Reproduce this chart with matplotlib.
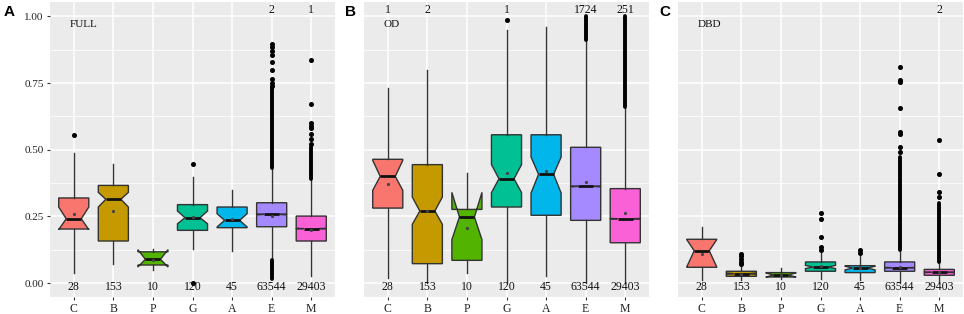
import matplotlib
matplotlib.use('Agg')
import matplotlib.pyplot as plt
from matplotlib.ticker import FixedLocator

categories = ['C', 'B', 'P', 'G', 'A', 'E', 'M']
counts = ['28', '153', '10', '120', '45', '63544', '29403']
colors = ['#F8766D', '#C49A00', '#53B400', '#00C094', '#00B6EB', '#A58AFF', '#FB61D7']
panel_titles = ['FULL', 'OD', 'DBD']
panel_letters = ['A', 'B', 'C']
y_ticks = [0.0, 0.25, 0.5, 0.75, 1.0]
y_tick_labels = ['0.00', '0.25', '0.50', '0.75', '1.00']

# ---- Panel A: FULL ----
full_q1 = [0.2025, 0.1575, 0.0675, 0.1975, 0.2075, 0.211, 0.1575]
full_med = [0.241, 0.314, 0.089, 0.245, 0.235, 0.2575, 0.204]
full_q3 = [0.319, 0.366, 0.117, 0.294, 0.285, 0.301, 0.251]
full_cilo = [0.200, 0.285, 0.060, 0.222, 0.210, 0.2555, 0.2025]
full_cihi = [0.285, 0.340, 0.125, 0.270, 0.260, 0.2595, 0.2055]
full_wlo = [0.0375, 0.0725, 0.0475, 0.129, 0.12, 0.085, 0.025]
full_whi = [0.489, 0.4475, 0.129, 0.3975, 0.3475, 0.429, 0.385]
full_mean = [0.259, 0.27, 0.085, 0.247, 0.24, 0.25, 0.20]
full_fliers = [[0.554], [], [], [0.4475, 0.0], [],
               [0.74, 0.75, 0.765, 0.80, 0.83, 0.855, 0.87, 0.885, 0.895],
               [0.52, 0.54, 0.56, 0.58, 0.59, 0.60, 0.67, 0.835]]
full_dense = [[], [], [], [], [], [(0.43, 0.73), (0.015, 0.085)], [(0.39, 0.51)]]
full_top = ['', '', '', '', '', '2', '1']

# ---- Panel B: OD ----
od_q1 = [0.281, 0.0725, 0.085, 0.285, 0.254, 0.235, 0.151]
od_med = [0.400, 0.270, 0.2475, 0.391, 0.4075, 0.3625, 0.241]
od_q3 = [0.464, 0.444, 0.276, 0.556, 0.556, 0.509, 0.354]
od_cilo = [0.3475, 0.220, 0.1625, 0.339, 0.3375, 0.3605, 0.2395]
od_cihi = [0.460, 0.3225, 0.340, 0.444, 0.4725, 0.3645, 0.2425]
od_wlo = [0.02, 0.0, 0.0375, 0.0, 0.025, 0.0, 0.0]
od_whi = [0.7325, 0.80, 0.414, 0.95, 0.96, 0.91, 0.6575]
od_mean = [0.37, 0.27, 0.206, 0.4125, 0.42, 0.3775, 0.2625]
od_fliers = [[], [], [], [0.9875], [], [], []]
od_dense = [[], [], [], [], [], [(0.91, 1.0)], [(0.66, 1.0)]]
od_top = ['1', '2', '', '1', '', '1724', '251']

# ---- Panel C: DBD ----
dbd_q1 = [0.059, 0.025, 0.0225, 0.044, 0.039, 0.044, 0.029]
dbd_med = [0.121, 0.035, 0.030, 0.060, 0.056, 0.0575, 0.040]
dbd_q3 = [0.164, 0.044, 0.039, 0.079, 0.065, 0.079, 0.051]
dbd_cilo = [0.060, 0.0325, 0.022, 0.054, 0.049, 0.0565, 0.039]
dbd_cihi = [0.163, 0.0375, 0.038, 0.066, 0.063, 0.0585, 0.041]
dbd_wlo = [0.011, 0.01, 0.016, 0.016, 0.0125, 0.0, 0.0]
dbd_whi = [0.211, 0.066, 0.0575, 0.1125, 0.10, 0.125, 0.079]
dbd_mean = [0.11, 0.035, 0.030, 0.062, 0.055, 0.060, 0.040]
dbd_fliers = [[], [0.07, 0.08, 0.09, 0.10, 0.11], [],
              [0.125, 0.135, 0.1725, 0.241, 0.264], [0.1125, 0.125],
              [0.49, 0.51, 0.56, 0.565, 0.656, 0.755, 0.76, 0.81],
              [0.3225, 0.34, 0.41, 0.5375]]
dbd_dense = [[], [], [], [], [], [(0.125, 0.4725)], [(0.08, 0.30)]]
dbd_top = ['', '', '', '', '', '', '2']

panels = [
    (full_q1, full_med, full_q3, full_cilo, full_cihi, full_wlo, full_whi, full_mean, full_fliers, full_dense, full_top),
    (od_q1, od_med, od_q3, od_cilo, od_cihi, od_wlo, od_whi, od_mean, od_fliers, od_dense, od_top),
    (dbd_q1, dbd_med, dbd_q3, dbd_cilo, dbd_cihi, dbd_wlo, dbd_whi, dbd_mean, dbd_fliers, dbd_dense, dbd_top),
]

serif = ['Liberation Serif', 'DejaVu Serif']
W, H = 964, 314
fig = plt.figure(figsize=(W / 100, H / 100), dpi=100)
lefts = [50, 364, 678]
pw = 285
top_px, bot_px = 2, 297

ymin, ymax = -0.0525, 1.054
positions = list(range(1, 8))

for pi, (q1, med, q3, cilo, cihi, wlo, whi, mean, fliers, dense, topc) in enumerate(panels):
    ax = fig.add_axes([lefts[pi] / W, 1 - bot_px / H, pw / W, (bot_px - top_px) / H])
    ax.set_facecolor('#EBEBEB')
    for s in ax.spines.values():
        s.set_visible(False)

    stats = []
    for i in range(7):
        stats.append(dict(med=med[i], q1=q1[i], q3=q3[i], cilo=cilo[i], cihi=cihi[i],
                          whislo=wlo[i], whishi=whi[i], mean=mean[i], fliers=fliers[i]))
    bp = ax.bxp(stats, positions=positions, widths=0.76, shownotches=True, patch_artist=True,
                showcaps=False, showmeans=True, manage_ticks=False,
                boxprops=dict(edgecolor='#333333', linewidth=1.0),
                whiskerprops=dict(color='#333333', linewidth=1.0),
                medianprops=dict(color='#111111', linewidth=2.0),
                meanprops=dict(marker='o', markersize=1.3, markerfacecolor='#444444',
                               markeredgecolor='#444444'),
                flierprops=dict(marker='o', markersize=2.6, markerfacecolor='black',
                                markeredgecolor='black', linestyle='none'))
    for patch, c in zip(bp['boxes'], colors):
        patch.set_facecolor(c)

    ax.set_xlim(0.4, 7.6)
    ax.set_ylim(ymin, ymax)
    ax.yaxis.set_major_locator(FixedLocator(y_ticks))
    ax.yaxis.set_minor_locator(FixedLocator([0.125, 0.375, 0.625, 0.875]))
    ax.set_xticks(positions)
    ax.set_xticklabels(categories, fontfamily=serif, fontsize=8.5)
    ax.grid(which='major', axis='both', color='white', lw=1.1)
    ax.grid(which='minor', axis='y', color='white', lw=0.55)
    ax.set_axisbelow(True)
    ax.tick_params(axis='x', length=2.5, width=0.8, color='#333333', pad=2, labelcolor='#222222')
    ax.tick_params(axis='y', which='minor', length=0)
    if pi == 0:
        ax.set_yticklabels(y_tick_labels, fontfamily=serif, fontsize=8)
        ax.tick_params(axis='y', length=2.5, width=0.8, color='#333333', pad=2, labelcolor='#222222')
    else:
        ax.tick_params(axis='y', which='major', length=0, labelleft=False)

    for i in range(7):
        for lo, hi in dense[i]:
            ax.vlines(positions[i], lo, hi, color='black', lw=2.8, capstyle='round', zorder=3)
        ax.text(positions[i], -0.015, counts[i], ha='center', va='center',
                fontfamily=serif, fontsize=8.5, color='#111111')
        if topc[i]:
            ax.text(positions[i], 1.024, topc[i], ha='center', va='center',
                    fontfamily=serif, fontsize=8.5, color='#111111')
    ax.text(0.9, 0.97, panel_titles[pi], ha='left', va='center',
            fontfamily=serif, fontsize=8, color='#111111')
    fig.text((lefts[pi] - 41 if pi == 0 else lefts[pi] - 13) / W, 1 - 12 / H, panel_letters[pi],
             ha='center', va='center', fontfamily=['Liberation Sans', 'DejaVu Sans'],
             fontweight='bold', fontsize=11)

fig.savefig('out.png', dpi=100)
